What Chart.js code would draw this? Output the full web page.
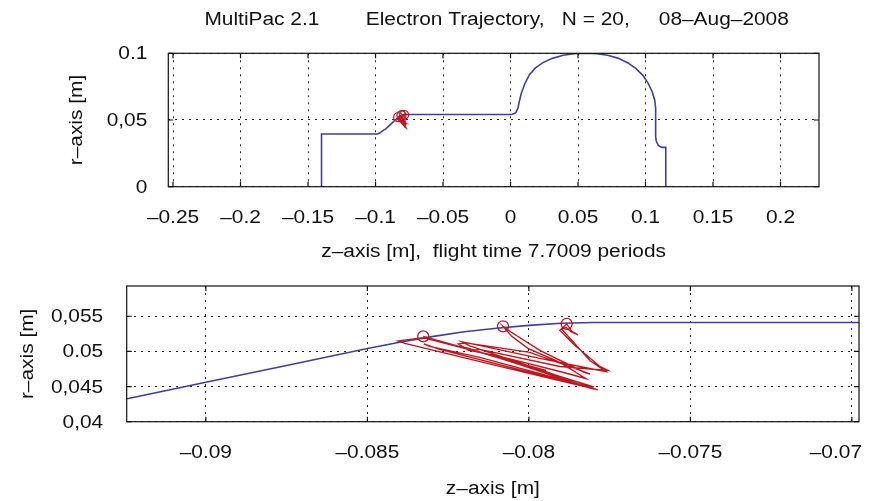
<!DOCTYPE html>
<html>
<head>
<meta charset="utf-8">
<script src="https://cdn.jsdelivr.net/npm/chart.js@4/dist/chart.umd.min.js"></script>
<style>
  html, body { margin: 0; padding: 0; background: #ffffff; }
  #wrap { position: relative; width: 872px; height: 501px; }
  #wrap canvas { position: absolute; left: 0; top: 0; }
</style>
</head>
<body>
<div id="wrap">
  <canvas id="overview" width="872" height="501"></canvas>
  <canvas id="detail" width="872" height="501"></canvas>
</div>
<script>
// Cavity wall contour (z, r) in metres
const cavityZ = [-0.1400, -0.1400, -0.0985, -0.0970, -0.0955, -0.0940, -0.0924, -0.0900, -0.0875, -0.0850,
                 -0.0840, -0.0830, -0.0820, -0.0810, -0.0800, -0.0790, -0.0780, -0.0770, 0.0010, 0.0040,
                 0.0055, 0.0065, 0.0080, 0.0105, 0.0140, 0.0185, 0.0240, 0.0310, 0.0390, 0.0470,
                 0.0560, 0.0640, 0.0720, 0.0800, 0.0870, 0.0930, 0.0980, 0.1020, 0.1050, 0.1068,
                 0.1075, 0.1075, 0.1080, 0.1095, 0.1120, 0.1150, 0.1150];
const cavityR = [0.0000, 0.0395, 0.0395, 0.0402, 0.0413, 0.0424, 0.0433, 0.0456, 0.0480, 0.0504,
                 0.0513, 0.0521, 0.0528, 0.0533, 0.0537, 0.0540, 0.0541, 0.0541, 0.0541, 0.0555,
                 0.0590, 0.0640, 0.0700, 0.0770, 0.0840, 0.0890, 0.0930, 0.0962, 0.0985, 0.0997,
                 0.1000, 0.0997, 0.0985, 0.0962, 0.0928, 0.0885, 0.0835, 0.0775, 0.0710, 0.0650,
                 0.0590, 0.0375, 0.0340, 0.0310, 0.0295, 0.0295, 0.0000];

// Electron trajectory (z, r) in metres
const pathZ = [-0.08327, -0.08183, -0.07947, -0.07966, -0.08152, -0.08325, -0.08368, -0.08405, -0.08384, -0.08090,
               -0.07786, -0.07811, -0.08028, -0.08207, -0.08218, -0.08195, -0.07997, -0.07811, -0.07827, -0.07966,
               -0.08059, -0.08080, -0.08053, -0.08003, -0.07904, -0.07824, -0.07904, -0.08090, -0.08183, -0.08152,
               -0.07904, -0.07755, -0.07780, -0.07858, -0.07904, -0.07883, -0.07867, -0.07848, -0.07870, -0.07885,
               -0.07898, -0.07811, -0.07762, -0.07796, -0.07966, -0.08183, -0.08207, -0.08183, -0.07904, -0.07799,
               -0.07827, -0.08152, -0.08307, -0.08325, -0.08276, -0.07904, -0.07793];
const pathR = [0.05214, 0.05029, 0.04729, 0.04736, 0.04986, 0.05193, 0.05171, 0.05147, 0.05114, 0.04786,
               0.04453, 0.04479, 0.04814, 0.05071, 0.05107, 0.05121, 0.04986, 0.04679, 0.04700, 0.05014,
               0.05286, 0.05357, 0.05214, 0.05043, 0.04843, 0.04614, 0.04714, 0.04929, 0.05014, 0.05029,
               0.04786, 0.04729, 0.04786, 0.05086, 0.05300, 0.05390, 0.05286, 0.05236, 0.05279, 0.05343,
               0.05314, 0.04871, 0.04714, 0.04743, 0.04900, 0.05114, 0.05136, 0.05079, 0.04643, 0.04493,
               0.04514, 0.04914, 0.05071, 0.05107, 0.05029, 0.04593, 0.04464];

// Wall impact points
const impactZ = [-0.08327, -0.08080, -0.07883];
const impactR = [0.05214, 0.05357, 0.05390];

// Axis ticks and their printed labels
const overviewZTicks  = [-0.25, -0.2, -0.15, -0.1, -0.05, 0, 0.05, 0.1, 0.15, 0.2];
const overviewZLabels = ['\u20130.25', '\u20130.2', '\u20130.15', '\u20130.1', '\u20130.05', '0', '0.05', '0.1', '0.15', '0.2'];
const overviewRTicks  = [0, 0.05, 0.1];
const overviewRLabels = ['0', '0,05', '0.1'];
const detailZTicks    = [-0.09, -0.085, -0.08, -0.075, -0.07];
const detailZLabels   = ['\u20130.09', '\u20130.085', '\u20130.08', '\u20130.075', '\u20130.07'];
const detailRTicks    = [0.04, 0.045, 0.05, 0.055];
const detailRLabels   = ['0,04', '0,045', '0.05', '0,055'];

const heading = 'MultiPac 2.1        Electron Trajectory,   N = 20,     08\u2013Aug\u20132008';

const WALL_BLUE = '#3f3f9c';
const PATH_RED = '#c0161e';
const FONT = '18px "Liberation Sans", Arial, sans-serif';
const STRETCH = 1.16;
const PAGE_W = 872;

const pts = (zs, rs) => zs.map((z, i) => ({ x: z, y: rs[i] }));

function textWidth(ctx, str) {
  ctx.save();
  ctx.font = FONT;
  const w = ctx.measureText(str).width * STRETCH;
  ctx.restore();
  return w;
}

function drawText(ctx, str, x, y, align, baseline, rot) {
  ctx.save();
  ctx.translate(x, y);
  if (rot) ctx.rotate(rot);
  ctx.scale(STRETCH, 1);
  ctx.font = FONT;
  ctx.fillStyle = '#111';
  ctx.textAlign = align;
  ctx.textBaseline = baseline;
  ctx.fillText(str, 0, 0);
  ctx.restore();
}

// Box, inward tick marks and all text of one panel
const framePlugin = {
  id: 'frame',
  afterDraw(chart, args, o) {
    const ctx = chart.ctx;
    const a = chart.chartArea;
    const xs = chart.scales.x, ys = chart.scales.y;
    ctx.save();
    ctx.strokeStyle = '#111';
    ctx.lineWidth = 1.2;
    ctx.setLineDash([]);
    ctx.strokeRect(a.left, a.top, a.right - a.left, a.bottom - a.top);
    ctx.beginPath();
    o.zTicks.forEach(v => {
      const p = xs.getPixelForValue(v);
      ctx.moveTo(p, a.bottom); ctx.lineTo(p, a.bottom - 5);
      ctx.moveTo(p, a.top); ctx.lineTo(p, a.top + 5);
    });
    o.rTicks.forEach(v => {
      const p = ys.getPixelForValue(v);
      ctx.moveTo(a.left, p); ctx.lineTo(a.left + 5, p);
      ctx.moveTo(a.right, p); ctx.lineTo(a.right - 5, p);
    });
    ctx.stroke();
    ctx.restore();

    o.zTicks.forEach((v, i) => {
      let x = xs.getPixelForValue(v);
      const half = textWidth(ctx, o.zLabels[i]) / 2;
      if (x + half > PAGE_W - 10) x = PAGE_W - 10 - half;
      drawText(ctx, o.zLabels[i], x, a.bottom + 36, 'center', 'alphabetic');
    });
    o.rTicks.forEach((v, i) => drawText(ctx, o.rLabels[i], a.left - o.rGap, ys.getPixelForValue(v) + 1, 'right', 'middle'));
    const cx = (a.left + a.right) / 2, cy = (a.top + a.bottom) / 2;
    drawText(ctx, o.zTitle, cx, a.bottom + o.zTitleGap, 'center', 'alphabetic');
    drawText(ctx, o.rTitle, o.rTitleX, cy, 'center', 'middle', -Math.PI / 2);
    if (o.heading) drawText(ctx, o.heading, cx + 3, 25, 'center', 'alphabetic');
  }
};

function makePanel(id, p) {
  return new Chart(document.getElementById(id), {
    type: 'scatter',
    data: {
      datasets: [
        { data: pts(cavityZ, cavityR), showLine: true, borderColor: WALL_BLUE, borderWidth: 1.6,
          pointRadius: 0, tension: 0, order: 3 },
        { data: pts(pathZ, pathR), showLine: true, borderColor: PATH_RED, borderWidth: 1.4,
          pointRadius: 0, tension: 0, order: 2 },
        { data: pts(impactZ, impactR), showLine: false, pointStyle: 'circle', pointRadius: p.ring,
          borderColor: PATH_RED, pointBorderWidth: 1.3, backgroundColor: 'rgba(0,0,0,0)', order: 1 }
      ]
    },
    options: {
      responsive: false,
      animation: false,
      events: [],
      layout: { padding: { left: 0, right: p.padRight, top: p.padTop, bottom: 0 } },
      plugins: {
        legend: { display: false },
        tooltip: { enabled: false },
        frame: p.frame
      },
      scales: {
        x: {
          type: 'linear', min: p.zMin, max: p.zMax,
          afterBuildTicks: s => { s.ticks = p.frame.zTicks.map(v => ({ value: v })); },
          afterFit: s => { s.height = p.xAxisHeight; },
          ticks: { display: false },
          grid: { color: '#222', lineWidth: 1, drawTicks: false },
          border: { display: false, dash: [2, 5] }
        },
        y: {
          type: 'linear', min: p.rMin, max: p.rMax,
          afterBuildTicks: s => { s.ticks = p.frame.rTicks.map(v => ({ value: v })); },
          afterFit: s => { s.width = p.yAxisWidth; },
          ticks: { display: false },
          grid: { color: '#222', lineWidth: 1, drawTicks: false },
          border: { display: false, dash: [2, 5] }
        }
      }
    },
    plugins: [framePlugin]
  });
}

// Whole cavity
makePanel('overview', {
  zMin: -0.2535, zMax: 0.2285, rMin: 0, rMax: 0.1,
  padTop: 53.3, padRight: 53, xAxisHeight: 501 - 186.7, yAxisWidth: 168.3, ring: 4.5,
  frame: {
    zTicks: overviewZTicks, zLabels: overviewZLabels,
    rTicks: overviewRTicks, rLabels: overviewRLabels,
    rGap: 21, zTitle: 'z\u2013axis [m],  flight time 7.7009 periods', zTitleGap: 70,
    rTitle: 'r\u2013axis [m]', rTitleX: 77, heading: heading
  }
});

// Close-up of the impact region
makePanel('detail', {
  zMin: -0.09245, zMax: -0.06978, rMin: 0.04, rMax: 0.0593,
  padTop: 286, padRight: 13, xAxisHeight: 501 - 421.7, yAxisWidth: 126.7, ring: 5.5,
  frame: {
    zTicks: detailZTicks, zLabels: detailZLabels,
    rTicks: detailRTicks, rLabels: detailRLabels,
    rGap: 23.5, zTitle: 'z\u2013axis [m]', zTitleGap: 72,
    rTitle: 'r\u2013axis [m]', rTitleX: 28, heading: null
  }
});
</script>
</body>
</html>
